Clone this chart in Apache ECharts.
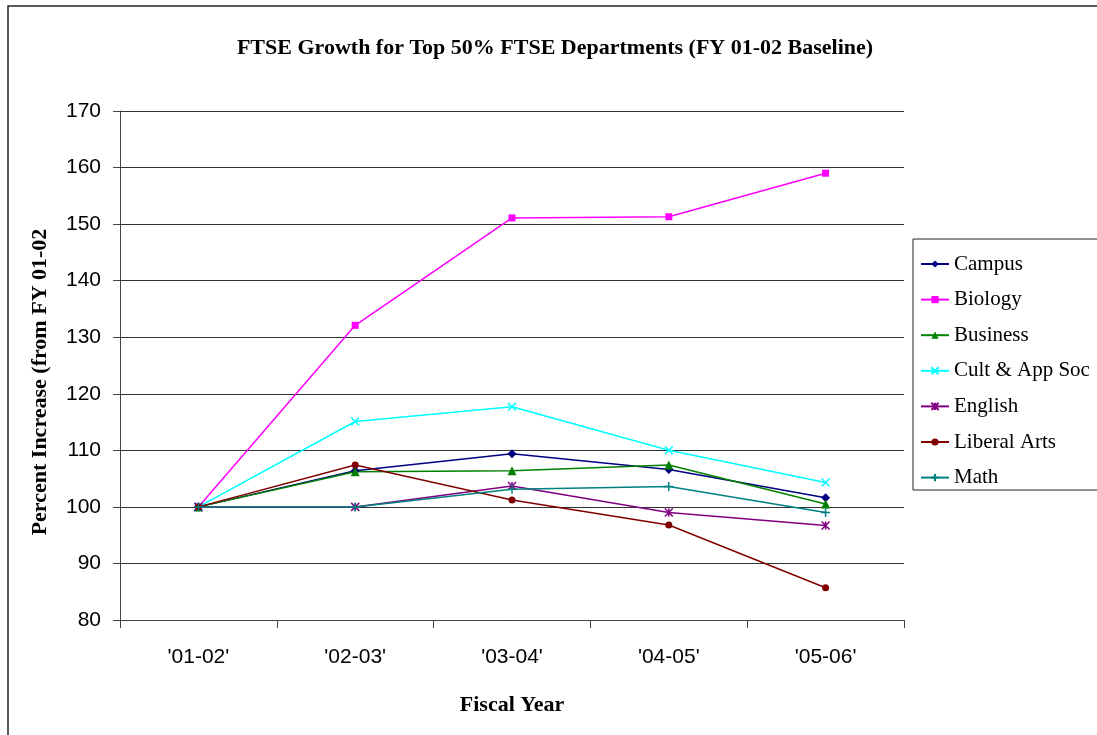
<!DOCTYPE html>
<html>
<head>
<meta charset="utf-8">
<script src="https://cdn.jsdelivr.net/npm/echarts@6/dist/echarts.min.js"></script>
<style>
  html, body { margin: 0; padding: 0; background: #fff; }
  #chart { width: 1097px; height: 735px; }
</style>
</head>
<body>
<div id="chart"></div>
<script>
// Fiscal years and FTSE index per department (FY 01-02 = 100)
const fiscalYears = ["'01-02'", "'02-03'", "'03-04'", "'04-05'", "'05-06'"];
const campus      = [100, 106.4, 109.4, 106.6, 101.6];
const biology     = [100, 132.1, 151.1, 151.3, 159.0];
const business    = [100, 106.2, 106.4, 107.4, 100.5];
const cultAppSoc  = [100, 115.1, 117.7, 110.0, 104.3];
const english     = [100, 100.0, 103.7,  99.0,  96.7];
const liberalArts = [100, 107.4, 101.2,  96.8,  85.7];
const math        = [100, 100.0, 103.1, 103.6,  99.0];
const yTicks = [80, 90, 100, 110, 120, 130, 140, 150, 160, 170];

const SERIF = '"Liberation Serif", "Times New Roman", serif';
const SANS = '"Liberation Sans", Arial, sans-serif';

const X_PATH = 'path://M0,0L10,10M10,0L0,10';
const PLUS_PATH = 'path://M5,0L5,10M0,5L10,5';
const STAR_PATH = 'path://M0,0L10,10M10,0L0,10M5,0L5,10';

function lineSeries(name, data, color, symbol, size, stroked) {
  return {
    name: name,
    type: 'line',
    data: data,
    symbol: symbol,
    symbolSize: size,
    showSymbol: true,
    lineStyle: { color: color, width: 1.5 },
    itemStyle: stroked
      ? { color: color, borderColor: color, borderWidth: 1.5 }
      : { color: color, borderWidth: 0 },
    emphasis: { disabled: true }
  };
}

const chart = echarts.init(document.getElementById('chart'), null, { renderer: 'canvas' });

chart.setOption({
  animation: false,
  backgroundColor: '#fff',
  title: {
    text: 'FTSE Growth for Top 50% FTSE Departments (FY 01-02 Baseline)',
    left: 550,
    textAlign: 'center',
    top: 32,
    textStyle: { fontFamily: SERIF, fontWeight: 'bold', fontSize: 22, color: '#000' }
  },
  graphic: [
    {
      type: 'rect', z: 0, silent: true,
      shape: { x: 8, y: 6, width: 1200, height: 800 },
      style: { fill: 'none', stroke: '#222', lineWidth: 1.5 }
    },
    {
      type: 'rect', z: 0, silent: true,
      shape: { x: 913, y: 239, width: 300, height: 251 },
      style: { fill: '#fff', stroke: '#222', lineWidth: 1 }
    },
    {
      type: 'text', z: 10, silent: true,
      x: 40, y: 382, rotation: Math.PI / 2,
      style: {
        text: 'Percent Increase (from FY 01-02',
        fontFamily: SERIF, fontWeight: 'bold', fontSize: 22, fill: '#000',
        align: 'center', verticalAlign: 'middle'
      }
    },
    {
      type: 'text', z: 10, silent: true,
      x: 512, y: 705,
      style: {
        text: 'Fiscal Year',
        fontFamily: SERIF, fontWeight: 'bold', fontSize: 22, fill: '#000',
        align: 'center', verticalAlign: 'middle'
      }
    }
  ],
  legend: {
    orient: 'vertical',
    left: 915,
    top: 248,
    itemWidth: 28,
    itemHeight: 9,
    itemGap: 13.6,
    textStyle: { fontFamily: SERIF, fontSize: 21, color: '#000', lineHeight: 22 },
    selectedMode: false,
    z: 5
  },
  grid: { left: 120, right: 193, top: 111, bottom: 115, containLabel: false },
  xAxis: {
    type: 'category',
    data: fiscalYears,
    boundaryGap: true,
    axisLine: { show: true, lineStyle: { color: '#444', width: 1 } },
    axisTick: { show: true, length: 8, alignWithLabel: false, lineStyle: { color: '#444' } },
    axisLabel: { fontFamily: SANS, fontSize: 21, color: '#000', margin: 27 },
    splitLine: { show: false }
  },
  yAxis: {
    type: 'value',
    min: yTicks[0],
    max: yTicks[yTicks.length - 1],
    interval: 10,
    axisLine: { show: true, lineStyle: { color: '#444', width: 1 } },
    axisTick: { show: true, length: 7, lineStyle: { color: '#444' } },
    axisLabel: { fontFamily: SANS, fontSize: 21, color: '#000', margin: 19 },
    splitLine: { show: true, lineStyle: { color: '#333', width: 1 } }
  },
  series: [
    lineSeries('Campus', campus, '#000080', 'diamond', 9, false),
    lineSeries('Biology', biology, '#FF00FF', 'rect', 7, false),
    lineSeries('Business', business, '#008000', 'triangle', 9, false),
    lineSeries('Cult & App Soc', cultAppSoc, '#00FFFF', X_PATH, 8, true),
    lineSeries('English', english, '#800080', STAR_PATH, 8, true),
    lineSeries('Liberal Arts', liberalArts, '#800000', 'circle', 7, false),
    lineSeries('Math', math, '#008080', PLUS_PATH, 9, true)
  ]
});
</script>
</body>
</html>
